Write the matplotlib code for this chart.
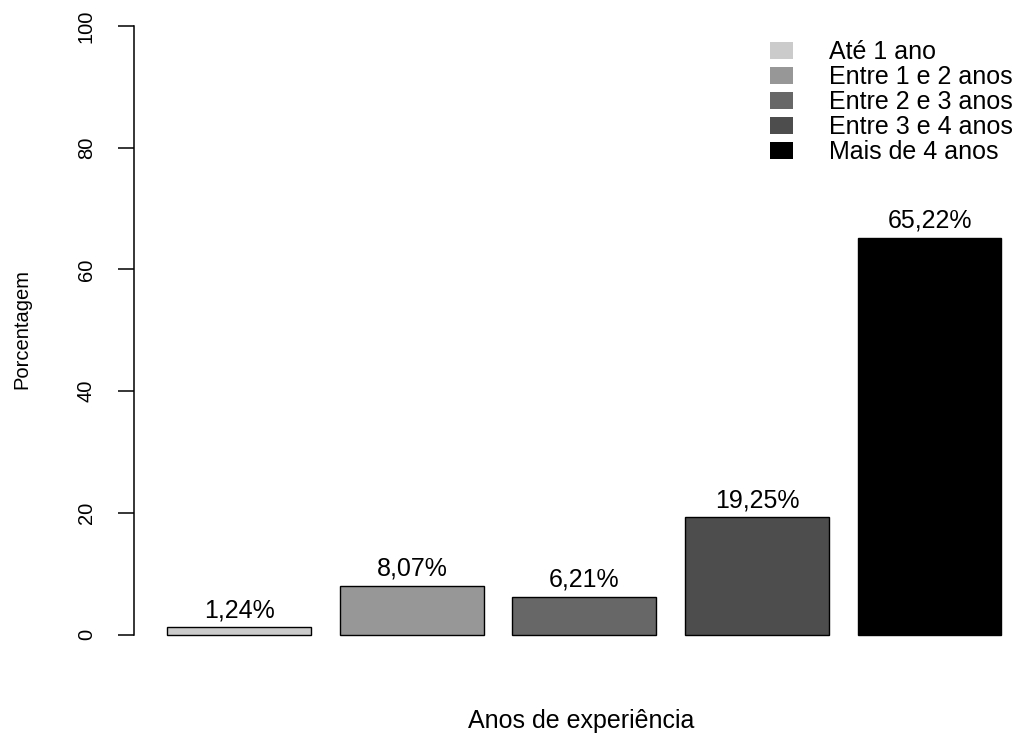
import numpy as np
import matplotlib.pyplot as plt
from matplotlib.patches import Patch

# data
categorias = ['Até 1 ano', 'Entre 1 e 2 anos', 'Entre 2 e 3 anos',
              'Entre 3 e 4 anos', 'Mais de 4 anos']
porcentagem = [1.24, 8.07, 6.21, 19.25, 65.22]
rotulos = ['1,24%', '8,07%', '6,21%', '19,25%', '65,22%']
cores = ['#cbcbcb', '#979797', '#676767', '#4d4d4d', '#000000']

plt.rcParams['font.family'] = ['Liberation Sans', 'DejaVu Sans']

fig = plt.figure(figsize=(10.29, 7.40), dpi=100)
# plot region in pixels: x 134..1029, y 1.6..659
ax = fig.add_axes([134 / 1029, (740 - 659) / 740, (1029 - 134) / 1029, (659 - 1.6) / 740])

# R-style barplot positions (width 1, space 0.2)
x = 0.2 + np.arange(len(porcentagem)) * 1.2 + 0.5
ax.bar(x, porcentagem, width=1.0, color=cores, edgecolor='black', linewidth=1.0)

for xi, yi, lab in zip(x, porcentagem, rotulos):
    ax.text(xi, yi + 2.8, lab, ha='center', va='center', fontsize=18)

ax.set_xlim(-0.032, -0.032 + 895 / 143.8)
ax.set_ylim(-4, 104)

ax.spines['top'].set_visible(False)
ax.spines['right'].set_visible(False)
ax.spines['bottom'].set_visible(False)
ax.spines['left'].set_bounds(0, 100)
ax.spines['left'].set_linewidth(1.1)
ax.set_xticks([])
ax.set_yticks([0, 20, 40, 60, 80, 100])
ax.tick_params(axis='y', length=11.5, width=1.1, pad=16, labelsize=14.5, labelrotation=90)
for t in ax.get_yticklabels():
    t.set_va('center')
    t.set_ha('right')

ax.set_ylabel('Porcentagem', fontsize=14.5, va='center')
ax.yaxis.set_label_coords((22 - 134) / 895, (659 - 329) / 657.4)
ax.set_xlabel('Anos de experiência', fontsize=18, va='center')
ax.xaxis.set_label_coords((581 - 134) / 895, -(721 - 659) / 657.4)

handles = [Patch(facecolor=c, edgecolor='none') for c in cores]
leg = ax.legend(handles, categorias, loc='upper left', frameon=False,
                bbox_to_anchor=(770 / 1029, 1 - 40 / 740), bbox_transform=fig.transFigure,
                fontsize=18, handlelength=0.92, handleheight=0.68, handletextpad=1.45,
                labelspacing=0.04, borderpad=0, borderaxespad=0)

fig.savefig('out.png', dpi=100)
